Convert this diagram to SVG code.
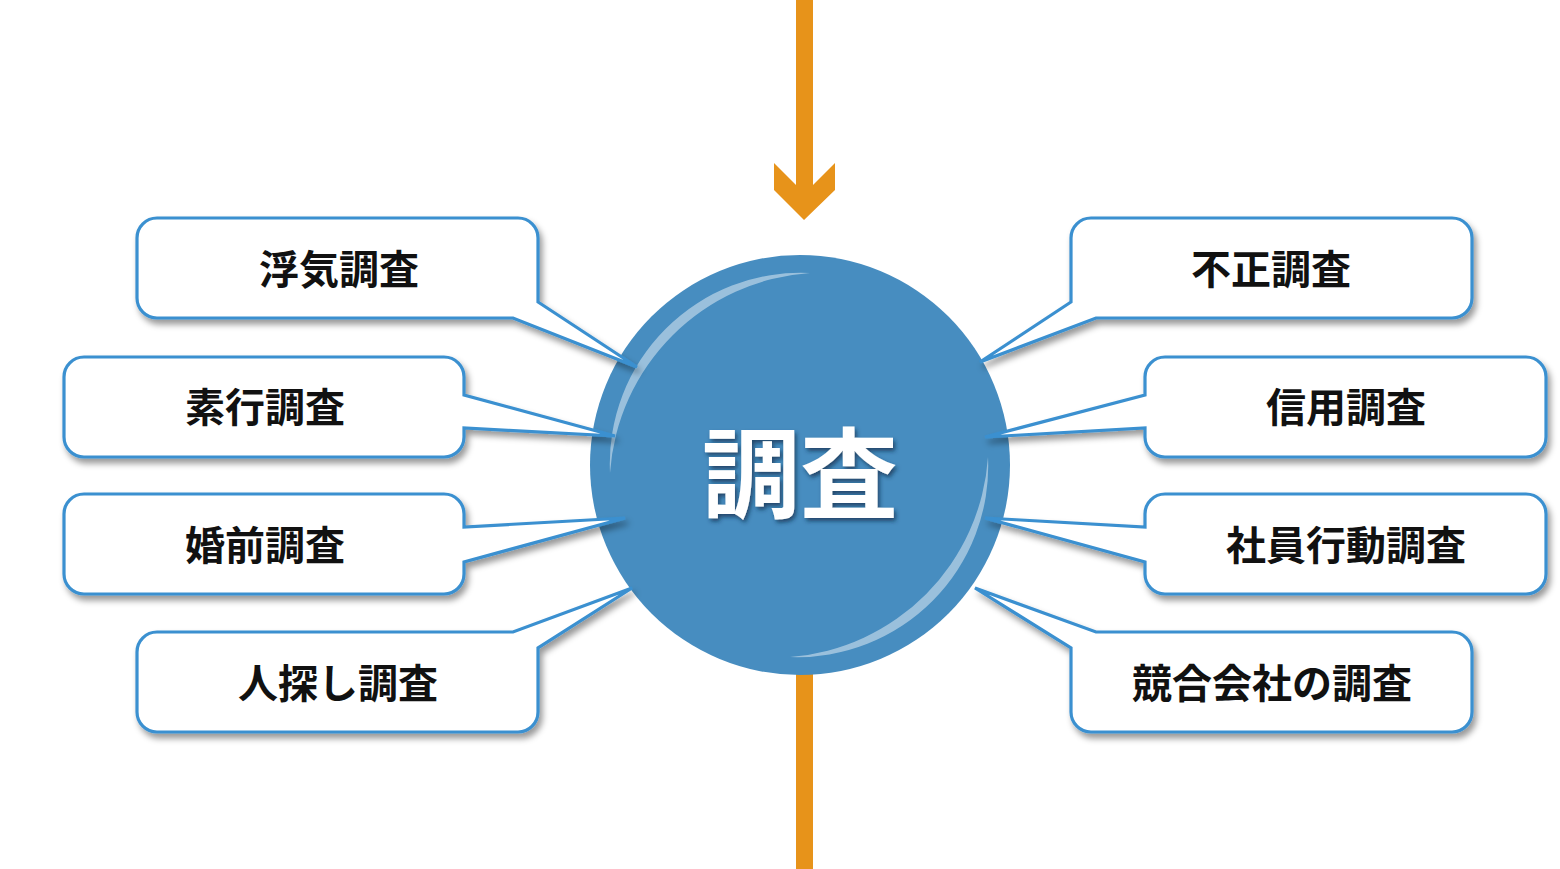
<svg xmlns="http://www.w3.org/2000/svg" width="1560" height="869" viewBox="0 0 1560 869">
<style>
.co{fill:#fff;stroke:#3a90d0;stroke-width:3.2;stroke-linejoin:miter;filter:url(#sh)}
.lb{font-family:"Noto Sans CJK JP","Noto Sans CJK SC",sans-serif;font-weight:700;font-size:40px;fill:#111;text-anchor:middle;dominant-baseline:central}
.ctr{font-family:"Noto Sans CJK JP","Noto Sans CJK SC",sans-serif;font-weight:700;font-size:98px;fill:#fff;text-anchor:middle;dominant-baseline:central;filter:url(#tsh)}
.hl{fill:#fff;fill-opacity:0.45}
.or{fill:#e7931a}
</style>
<defs>
<filter id="sh" x="-10%" y="-20%" width="130%" height="150%">
<feDropShadow dx="3" dy="5" stdDeviation="3" flood-color="#000" flood-opacity="0.4"/>
</filter>
<filter id="tsh" x="-10%" y="-10%" width="130%" height="130%">
<feDropShadow dx="2" dy="3" stdDeviation="2" flood-color="#0a2a44" flood-opacity="0.7"/>
</filter>
</defs>
<g id="arrow-top">
<polygon class="or" points="796,0 813,0 813,185 835,163 835,190 804,220 774,190 774,163 796,185"/>
</g>
<g id="arrow-bottom">
<rect class="or" x="796" y="670" width="17" height="199"/>
</g>
<g id="center">
<circle cx="800" cy="465" r="210" fill="#478dc0"/>
<path class="hl" d="M610,473 A191,191 0 0 1 810,273 A215,215 0 0 0 610,473 Z"/>
<path class="hl" d="M988,457 A191,191 0 0 1 790,657 A215,215 0 0 0 988,457 Z"/>
<text class="ctr" x="800" y="467">調査</text>
</g>
<g id="connectors"></g>
<g id="n1">
<path class="co" d="M157,218 H518 A20,20 0 0 1 538,238 V302 L637,367 L513,318 H157 A20,20 0 0 1 137,298 V238 A20,20 0 0 1 157,218 Z"/>
<text class="lb" x="339" y="267">浮気調査</text>
</g>
<g id="n2">
<path class="co" d="M84,357 H444 A20,20 0 0 1 464,377 V395 L615,436 L464,428 V437 A20,20 0 0 1 444,457 H84 A20,20 0 0 1 64,437 V377 A20,20 0 0 1 84,357 Z"/>
<text class="lb" x="265" y="405">素行調査</text>
</g>
<g id="n3">
<path class="co" d="M84,494 H444 A20,20 0 0 1 464,514 V527 L625,518 L464,562 V574 A20,20 0 0 1 444,594 H84 A20,20 0 0 1 64,574 V514 A20,20 0 0 1 84,494 Z"/>
<text class="lb" x="265" y="543">婚前調査</text>
</g>
<g id="n4">
<path class="co" d="M157,632 H513 L632,588 L538,648 V712 A20,20 0 0 1 518,732 H157 A20,20 0 0 1 137,712 V652 A20,20 0 0 1 157,632 Z"/>
<text class="lb" x="338" y="681">人探し調査</text>
</g>
<g id="n5">
<path class="co" d="M1091,218 H1452 A20,20 0 0 1 1472,238 V298 A20,20 0 0 1 1452,318 H1096 L980,362 L1071,302 V238 A20,20 0 0 1 1091,218 Z"/>
<text class="lb" x="1271" y="267">不正調査</text>
</g>
<g id="n6">
<path class="co" d="M1165,357 H1526 A20,20 0 0 1 1546,377 V437 A20,20 0 0 1 1526,457 H1165 A20,20 0 0 1 1145,437 V428 L985,437 L1145,395 V377 A20,20 0 0 1 1165,357 Z"/>
<text class="lb" x="1346" y="405">信用調査</text>
</g>
<g id="n7">
<path class="co" d="M1165,494 H1526 A20,20 0 0 1 1546,514 V574 A20,20 0 0 1 1526,594 H1165 A20,20 0 0 1 1145,574 V562 L985,518 L1145,527 V514 A20,20 0 0 1 1165,494 Z"/>
<text class="lb" x="1346" y="543">社員行動調査</text>
</g>
<g id="n8">
<path class="co" d="M1096,632 H1452 A20,20 0 0 1 1472,652 V712 A20,20 0 0 1 1452,732 H1091 A20,20 0 0 1 1071,712 V648 L975,588 Z"/>
<text class="lb" x="1272" y="681">競合会社の調査</text>
</g>
</svg>
